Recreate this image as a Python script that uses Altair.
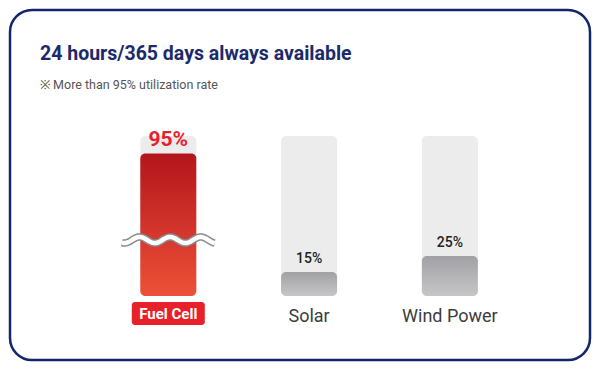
import altair as alt
import pandas as pd
import numpy as np

# ---- data ----
categories = ["Fuel Cell", "Solar", "Wind Power"]
positions = [0, 1, 2]
rates = [95, 15, 25]
rate_labels = ["95%", "15%", "25%"]
track_max = 100
break_gap = 6  # span hidden by the axis break drawn on the Fuel Cell bar
break_level = 35  # value where the break symbol sits

title_text = "24 hours/365 days always available"
subtitle_text = "※ More than 95% utilization rate"

# ---- tables ----
df = pd.DataFrame({
    "cat": categories,
    "pos": positions,
    "rate": rates,
    "label": rate_labels,
})
df["shown"] = [r - break_gap if c == "Fuel Cell" else r for c, r in zip(categories, rates)]
df["base"] = 0
df["track"] = track_max

# break symbol (decoration): a small wavy stroke across the Fuel Cell bar
wx = np.linspace(-0.33, 0.33, 120)
wave = pd.DataFrame({
    "wx": wx,
    "wy": break_level + 1.9 * np.sin(2 * np.pi * wx * 143 / 31 + 1.2),
})

x_scale = alt.Scale(domain=[-1.089, 2.960], nice=False, zero=False)
y_scale = alt.Scale(domain=[-40, 178.75], nice=False, zero=False)
X = alt.X("pos:Q", scale=x_scale, axis=None)
Yb = alt.Y("base:Q", scale=y_scale, axis=None)

red_grad = alt.Gradient(
    gradient="linear", x1=0, y1=0, x2=0, y2=1,
    stops=[alt.GradientStop(offset=0, color="#b3151c"),
           alt.GradientStop(offset=1, color="#ee5138")],
)
gray_grad = alt.Gradient(
    gradient="linear", x1=0, y1=0, x2=0, y2=1,
    stops=[alt.GradientStop(offset=0, color="#a1a1a5"),
           alt.GradientStop(offset=1, color="#c6c6c8")],
)

base = alt.Chart(df)
is_fc = alt.datum.cat == "Fuel Cell"
not_fc = alt.datum.cat != "Fuel Cell"

track = base.mark_bar(width=56, cornerRadius=5, color="#ececec").encode(
    x=X, y=Yb, y2="track:Q")

red_bar = base.transform_filter(is_fc).mark_bar(
    width=56, cornerRadius=5, color=red_grad).encode(x=X, y=Yb, y2="shown:Q")

gray_bar = base.transform_filter(not_fc).mark_bar(
    width=56, cornerRadius=5, color=gray_grad).encode(x=X, y=Yb, y2="shown:Q")

wave_base = alt.Chart(wave).encode(
    x=alt.X("wx:Q", scale=x_scale, axis=None),
    y=alt.Y("wy:Q", scale=y_scale, axis=None),
    order="wx:Q",
)
wave_outer = wave_base.mark_line(color="#8a8a8a", strokeWidth=7.5, strokeCap="butt")
wave_inner = wave_base.mark_line(color="#ffffff", strokeWidth=4.5, strokeCap="butt")

val_fc = base.transform_filter(is_fc).mark_text(
    font="Roboto", fontSize=21, fontWeight="bold", color="#e8202a",
    baseline="alphabetic", dy=-8).encode(
    x=X, y=alt.Y("shown:Q", scale=y_scale, axis=None), text="label:N")

val_other = base.transform_filter(not_fc).mark_text(
    font="Roboto", fontSize=14, fontWeight=500, color="#222222",
    baseline="alphabetic", dy=-9).encode(
    x=X, y=alt.Y("shown:Q", scale=y_scale, axis=None), text="label:N")

label_box = base.transform_filter(is_fc).mark_bar(
    width=73, cornerRadius=3, color="#e8202a", yOffset=6, y2Offset=29).encode(
    x=X, y=Yb, y2="base:Q")

cat_fc = base.transform_filter(is_fc).mark_text(
    font="Roboto", fontSize=15, fontWeight="bold", color="#ffffff",
    baseline="middle", dy=18).encode(x=X, y=Yb, text="cat:N")

cat_other = base.transform_filter(not_fc).mark_text(
    font="Roboto", fontSize=18, color="#3c3c3c",
    baseline="middle", dy=21).encode(x=X, y=Yb, text="cat:N")

chart = alt.layer(
    track, red_bar, gray_bar, wave_outer, wave_inner,
    val_fc, val_other, label_box, cat_fc, cat_other,
).properties(
    width=580,
    height=350,
    padding=2,
    background="#ffffff",
    autosize=alt.AutoSizeParams(type="none"),
    title=alt.TitleParams(
        text=title_text,
        subtitle=subtitle_text,
        anchor="start",
        frame="group",
        orient="top",
        dx=30,
        offset=-82,
        font="Roboto",
        fontSize=19.5,
        fontWeight="bold",
        color="#1b2a6b",
        subtitleFont="Roboto",
        subtitleFontSize=12.5,
        subtitleColor="#555555",
        subtitlePadding=14,
    ),
).configure_view(
    stroke="#13256b", strokeWidth=2.5, cornerRadius=22, fill="#ffffff"
)

chart.save("out.html", embed_options={"renderer": "svg", "actions": False})
